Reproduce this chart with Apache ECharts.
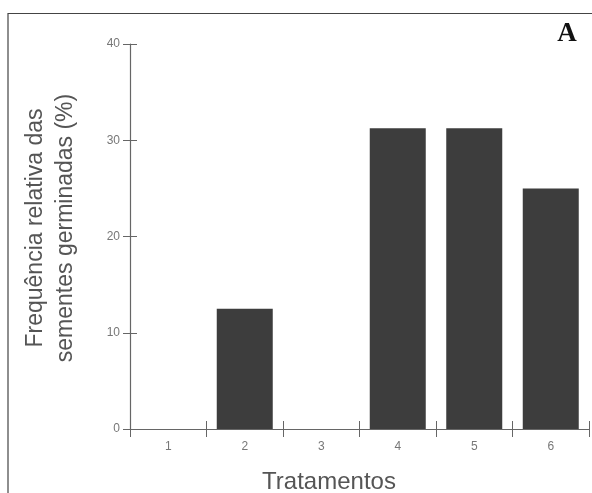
<!DOCTYPE html>
<html>
<head>
    <meta charset="utf-8">
    <script type="text/javascript" src="https://cdn.jsdelivr.net/npm/echarts@6/dist/echarts.min.js"></script>
    <style>
        body { margin: 0; background: #fff; }
    </style>
</head>
<body>
    <div id="main" style="width: 592px;height:493px;"></div>
    <script type="text/javascript">
    // dados
    let tratamentos = ['1', '2', '3', '4', '5', '6']
    let frequencia = [0, 12.5, 0, 31.25, 31.25, 25]
    let yTicks = [0, 10, 20, 30, 40]
    let yTitulo = 'Frequência relativa das\nsementes germinadas (%)'
    let xTitulo = 'Tratamentos'

    let axisColor = '#666'
    let labelColor = '#777'
    let font = 'Liberation Sans, Arial, sans-serif'

    var myChart = echarts.init(document.getElementById('main'));
    let option = {
        animation: false,
        backgroundColor: '#fff',
        grid: {
            left: 130,
            right: 3,
            top: 44,
            bottom: 64
        },
        graphic: [{
            type: 'polyline',
            shape: { points: [[8, 493], [8, 13.5], [592, 13.5]] },
            style: { stroke: '#444', lineWidth: 1.2, fill: null }
        }, {
            type: 'text',
            x: 567,
            y: 34,
            style: {
                text: 'A',
                font: 'bold 27px "Liberation Serif", "DejaVu Serif", serif',
                fill: '#111',
                align: 'center',
                verticalAlign: 'middle'
            }
        }, {
            // titulo do eixo y
            type: 'text',
            x: 51,
            y: 228,
            rotation: Math.PI / 2,
            style: {
                text: yTitulo,
                font: '23px ' + font,
                fill: '#555',
                align: 'center',
                verticalAlign: 'middle',
                lineHeight: 30
            }
        }, {
            // titulo do eixo x
            type: 'text',
            x: 329,
            y: 482,
            style: {
                text: xTitulo,
                font: '24px ' + font,
                fill: '#555',
                align: 'center',
                verticalAlign: 'middle'
            }
        }],
        xAxis: [{
            type: 'category',
            data: tratamentos,
            boundaryGap: true,
            axisLine: { lineStyle: { color: axisColor, width: 1.2 } },
            axisTick: { show: true, length: 8, lineStyle: { color: axisColor } },
            axisLabel: { color: labelColor, fontSize: 12, fontFamily: font, margin: 12 },
            splitLine: { show: false }
        }, {
            type: 'category',
            data: tratamentos,
            position: 'bottom',
            boundaryGap: true,
            axisLine: { show: false },
            axisTick: { show: true, inside: true, length: 8, lineStyle: { color: axisColor } },
            axisLabel: { show: false },
            splitLine: { show: false }
        }],
        yAxis: [{
            type: 'value',
            min: 0,
            max: 40,
            interval: 10,
            axisLine: { show: true, lineStyle: { color: axisColor, width: 1.2 } },
            axisTick: { show: true, length: 7, lineStyle: { color: axisColor } },
            axisLabel: { color: labelColor, fontSize: 12, fontFamily: font, margin: 10 },
            splitLine: { show: false }
        }, {
            type: 'value',
            min: 0,
            max: 40,
            interval: 10,
            position: 'left',
            axisLine: { show: false },
            axisTick: { show: true, inside: true, length: 7, lineStyle: { color: axisColor } },
            axisLabel: { show: false },
            splitLine: { show: false }
        }],
        series: [{
            name: 'frequencia',
            type: 'bar',
            data: frequencia,
            barWidth: 56,
            itemStyle: { color: '#3d3d3d' }
        }]
    };
    myChart.setOption(option);
    </script>
</body>
</html>
